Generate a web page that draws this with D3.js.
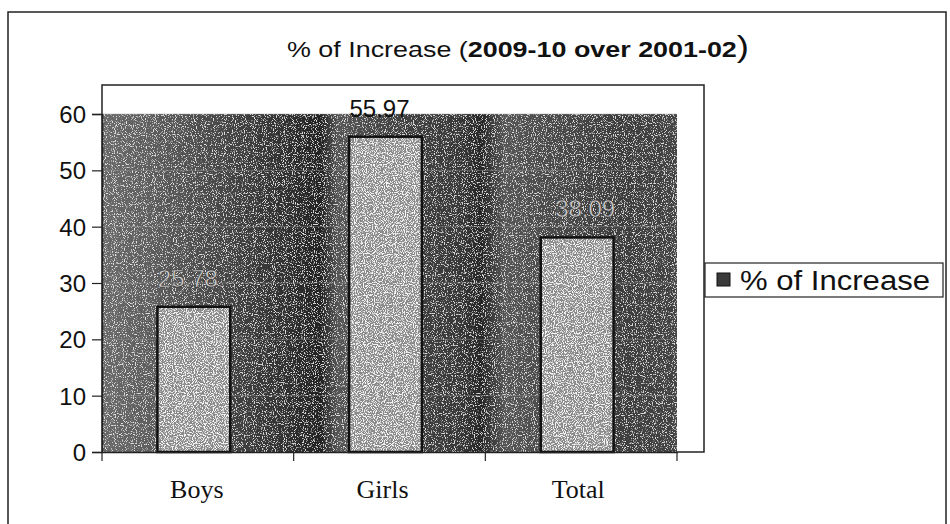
<!DOCTYPE html>
<html>
<head>
<meta charset="utf-8">
<script src="https://cdn.jsdelivr.net/npm/d3@7"></script>
<style>
  html, body { margin: 0; padding: 0; background: #fff; }
  svg { display: block; }
</style>
</head>
<body>
<svg id="chart" width="950" height="524"></svg>
<script>
// ---- data ----
const categories = ["Boys", "Girls", "Total"];
const increaseValues = [25.78, 55.97, 38.09];
const valueLabels = ["25.78", "55.97", "38.09"];
const yTickValues = [0, 10, 20, 30, 40, 50, 60];
const seriesName = "% of Increase";
const titleParts = ["% of Increase (", "2009-10 over 2001-02", ")"];

// ---- layout ----
const plotBox = { x0: 102, x1: 704, y0: 85 };
const grayArea = { x0: 102, x1: 677, y0: 114, y1: 452 };

const svg = d3.select("#chart");
const defs = svg.append("defs");

// speckle filter to mimic the scanned halftone texture
function speckle(id, seed, k, t, a) {
  const f = defs.append("filter").attr("id", id)
    .attr("x", 0).attr("y", 0).attr("width", "100%").attr("height", "100%");
  f.append("feTurbulence").attr("type", "fractalNoise")
    .attr("baseFrequency", 0.9).attr("numOctaves", 1).attr("seed", seed).attr("result", "n");
  f.append("feColorMatrix").attr("in", "n").attr("type", "matrix")
    .attr("values", `0 0 0 0 1  0 0 0 0 1  0 0 0 0 1  ${k} 0 0 0 ${t}`).attr("result", "dots");
  f.append("feComponentTransfer").attr("in", "dots").attr("result", "dots2")
    .append("feFuncA").attr("type", "linear").attr("slope", a).attr("intercept", 0);
  f.append("feComposite").attr("in", "dots2").attr("in2", "SourceGraphic").attr("operator", "in").attr("result", "clipped");
  const m = f.append("feMerge");
  m.append("feMergeNode").attr("in", "SourceGraphic");
  m.append("feMergeNode").attr("in", "clipped");
}
speckle("bgGrain", 4, 8, -4.4, 0.7);
speckle("barGrain", 9, 8, -3.9, 0.9);

// horizontal shading of the scanned background
const bgGrad = defs.append("linearGradient").attr("id", "bgShade")
  .attr("gradientUnits", "userSpaceOnUse")
  .attr("x1", grayArea.x0).attr("x2", grayArea.x1).attr("y1", 0).attr("y2", 0);
const shadeStops = [
  [0.00, "#6a6a6a"], [0.08, "#5e5e5e"], [0.22, "#444"], [0.33, "#2e2e2e"],
  [0.38, "#222"], [0.41, "#555"], [0.50, "#444"], [0.62, "#383838"],
  [0.66, "#262626"], [0.70, "#555"], [0.78, "#4a4a4a"], [0.90, "#3c3c3c"], [1.00, "#444"]
];
shadeStops.forEach(([o, c]) => bgGrad.append("stop").attr("offset", o).attr("stop-color", c));

// ---- scales ----
const x = d3.scaleBand().domain(categories).range([grayArea.x0, grayArea.x1]).padding(0);
const y = d3.scaleLinear().domain([0, 60]).range([grayArea.y1, grayArea.y0]);
const barW = x.bandwidth() * 0.38;
const barCenter = c => x(c) + x.bandwidth() / 2 - 4;

// outer chart border
svg.append("rect").attr("x", 8).attr("y", 12).attr("width", 938).attr("height", 540)
  .attr("fill", "none").attr("stroke", "#222").attr("stroke-width", 1.5);

// title
const title = svg.append("text").attr("x", 518).attr("y", 57).attr("text-anchor", "middle")
  .attr("font-family", "Liberation Sans, Arial, sans-serif").attr("fill", "#111")
  .attr("textLength", 462).attr("lengthAdjust", "spacingAndGlyphs");
title.append("tspan").attr("font-size", 22).text(titleParts[0]);
title.append("tspan").attr("font-size", 22).attr("font-weight", "bold").text(titleParts[1]);
title.append("tspan").attr("font-size", 30).text(titleParts[2]);

// plot box (white with border)
svg.append("rect").attr("x", plotBox.x0).attr("y", plotBox.y0)
  .attr("width", plotBox.x1 - plotBox.x0).attr("height", y(0) - plotBox.y0)
  .attr("fill", "#fff").attr("stroke", "#222").attr("stroke-width", 1.5);

// textured background
svg.append("rect").attr("x", grayArea.x0).attr("y", y(60))
  .attr("width", grayArea.x1 - grayArea.x0).attr("height", y(0) - y(60))
  .attr("fill", "url(#bgShade)").attr("filter", "url(#bgGrain)");

// gridlines
svg.append("g").selectAll("line").data(yTickValues.filter(v => v > 0)).join("line")
  .attr("x1", grayArea.x0).attr("x2", grayArea.x1)
  .attr("y1", d => y(d)).attr("y2", d => y(d))
  .attr("stroke", "#9a9a9a").attr("stroke-opacity", 0.45).attr("stroke-width", 1);

// bars
svg.append("g").selectAll("rect").data(increaseValues).join("rect")
  .attr("x", (d, i) => barCenter(categories[i]) - barW / 2)
  .attr("y", d => y(d))
  .attr("width", barW)
  .attr("height", d => y(0) - y(d))
  .attr("fill", "#8a8a8a").attr("filter", "url(#barGrain)");
svg.append("g").selectAll("rect").data(increaseValues).join("rect")
  .attr("x", (d, i) => barCenter(categories[i]) - barW / 2)
  .attr("y", d => y(d))
  .attr("width", barW)
  .attr("height", d => y(0) - y(d))
  .attr("fill", "none").attr("stroke", "#111").attr("stroke-width", 2.5);

// value labels
svg.append("g").selectAll("text").data(increaseValues).join("text")
  .attr("x", (d, i) => barCenter(categories[i]) + [-6, -6, 8][i])
  .attr("y", d => y(d) - 20)
  .attr("text-anchor", "middle")
  .attr("font-family", "Liberation Sans, Arial, sans-serif").attr("font-size", 24)
  .attr("fill", (d, i) => i === 1 ? "#111" : "#cfcfcf")
  .attr("stroke", (d, i) => i === 1 ? "none" : "#222").attr("stroke-width", 0.4)
  .text((d, i) => valueLabels[i]);

// y axis
const yAxis = d3.axisLeft(y).tickValues(yTickValues).tickSize(10).tickPadding(6).tickFormat(d3.format("d"));
const gy = svg.append("g").attr("transform", `translate(${grayArea.x0},0)`).call(yAxis);
gy.select(".domain").attr("stroke", "#222").attr("stroke-width", 1.5);
gy.selectAll(".tick line").attr("stroke", "#222").attr("stroke-width", 1.2);
gy.selectAll(".tick text").attr("font-family", "Liberation Sans, Arial, sans-serif")
  .attr("font-size", 24).attr("fill", "#111").attr("dy", "0.36em");

// x axis
const xAxis = d3.axisBottom(x).tickSize(0).tickPadding(28);
const gx = svg.append("g").attr("transform", `translate(0,${y(0)})`).call(xAxis);
gx.select(".domain").attr("stroke", "#222").attr("stroke-width", 1.5);
gx.selectAll(".tick text").attr("font-family", "Liberation Serif, Times New Roman, serif")
  .attr("font-size", 26).attr("fill", "#111")
  .attr("dx", (d, i) => [-1, -7, -3][i]);
// category boundary tick marks
const boundaries = categories.map(c => x(c)).concat([x(categories[categories.length - 1]) + x.bandwidth()]);
gx.append("g").selectAll("line").data(boundaries).join("line")
  .attr("x1", d => d).attr("x2", d => d).attr("y1", 0).attr("y2", 9)
  .attr("stroke", "#222").attr("stroke-width", 1.2);

// legend
const lg = svg.append("g");
lg.append("rect").attr("x", 705).attr("y", 263).attr("width", 238).attr("height", 34)
  .attr("fill", "#fff").attr("stroke", "#222").attr("stroke-width", 1.2);
lg.append("rect").attr("x", 717).attr("y", 273).attr("width", 13).attr("height", 13)
  .attr("fill", "#3a3a3a").attr("stroke", "#111").attr("stroke-width", 1);
lg.append("text").attr("x", 740).attr("y", 290)
  .attr("font-family", "Liberation Sans, Arial, sans-serif").attr("font-size", 27)
  .attr("textLength", 190).attr("lengthAdjust", "spacingAndGlyphs")
  .attr("fill", "#111").text(seriesName);
</script>
</body>
</html>
